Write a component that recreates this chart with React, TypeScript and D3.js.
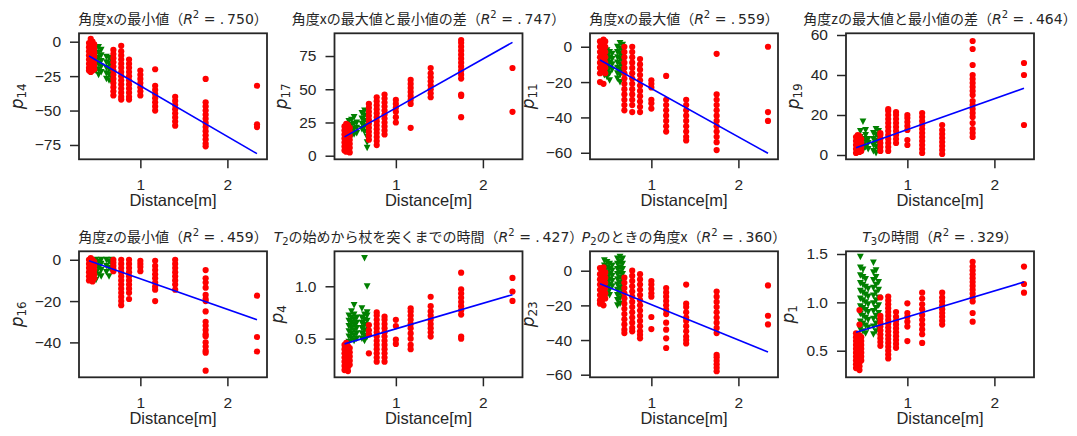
import React, { useEffect, useRef } from "react";
import * as d3 from "d3";

// column positions on the x axis (Distance[m])
const redX = [0.41, 0.43, 0.45, 0.47, 0.69, 0.78, 0.87, 1.0, 1.17, 1.4, 1.75, 2.34];
const greenX = [0.46, 0.49, 0.52, 0.55, 0.61, 0.64, 0.67];
const fitX = [0.41, 2.34];
const xTicks = [1, 2];
const xDomain = [0.295, 2.455];

const titleVars = [null, null, null, null, null, ["T", "2"], ["P", "2"], ["T", "3"]];
const titleTexts = [
  "角度xの最小値",
  "角度xの最大値と最小値の差",
  "角度xの最大値",
  "角度zの最大値と最小値の差",
  "角度zの最小値",
  "の始めから杖を突くまでの時間",
  "のときの角度x",
  "の時間",
];
const r2Labels = [".750", ".747", ".559", ".464", ".459", ".427", ".360", ".329"];
const yLabels = ["14", "17", "11", "19", "16", "4", "23", "1"];
const yDomains = [
  [-85.4, 6.1], [-2.7, 92.1], [-63.7, 7.6], [-2.15, 60.85],
  [-56.9, 4.1], [0.131, 1.334], [-61.5, 11.2], [0.225, 1.528],
];
const yTicks = [
  [0, -25, -50, -75], [0, 25, 50, 75], [0, -20, -40, -60], [0, 20, 40, 60],
  [0, -20, -40], [0.5, 1.0], [0, -20, -40, -60], [0.5, 1.0, 1.5],
];
const fitY = [
  [-10.4, -81.3], [14.2, 85.3], [-7.5, -60.3], [3.6, 33.4],
  [-0.5, -29], [0.45, 0.92], [-7.5, -46.9], [0.69, 1.21],
];

// p14
const p14Red = [
  [-1, -4, -7, -10, -13, -16, -19, -21],
  [2, -2, -5, -8, -11, -14, -17, -20, -22],
  [0, -3, -6, -9, -12, -15, -18, -21],
  [-2, -5, -8, -11, -14, -17, -20],
  [-6, -9, -12, -15, -18, -21, -24, -27, -30, -33, -36, -39],
  [-3, -7, -10, -13, -16, -19, -22, -25, -28, -31, -34, -37, -40, -42],
  [-13, -16, -19, -22, -25, -28, -31, -34, -37, -40, -42],
  [-21, -24, -27, -30, -33, -36, -39],
  [-20, -32, -35, -38, -41, -44, -47, -50],
  [-40, -43, -46, -49, -52, -55, -58, -61],
  [-27, -44, -47, -50, -53, -56, -59, -62, -65, -68, -71, -74, -76],
  [-32, -60, -62],
];
const p14Green = [
  [-3, -7, -11, -15, -19],
  [-5, -9, -13, -17, -21],
  [-4, -8, -12, -16, -20, -24],
  [-6, -10, -14, -18, -22],
  [-11, -15, -19, -23, -27],
  [-12, -16, -20, -24, -28],
  [-14, -18, -22, -26, -29],
];
// p17
const p17Red = [
  [4, 7, 10, 13, 16, 19, 22],
  [3, 6, 9, 12, 15, 18, 21, 24],
  [5, 8, 11, 14, 17, 20, 23],
  [2.5, 6, 9, 12, 15, 18, 21],
  [12, 15, 18, 21, 24, 27, 30, 33, 36, 39],
  [8, 11, 14, 17, 20, 23, 26, 29, 32, 35, 38, 41, 44],
  [16, 19, 22, 25, 28, 31, 34, 37, 40, 43, 46],
  [25, 29, 33, 36, 39, 42],
  [21, 39, 42, 45, 48, 51, 54, 57],
  [44, 47, 50, 53, 56, 59, 62, 66],
  [29, 45, 46, 58, 61, 64, 67, 70, 73, 76, 79, 82, 85, 87],
  [33, 66],
];
const p17Green = [
  [14, 18, 22, 26],
  [15, 19, 23, 27],
  [16, 20, 24, 29],
  [17, 21, 25],
  [20, 24, 28, 32],
  [18, 22, 26, 30, 34],
  [6, 10, 14, 18, 22, 26, 30],
];
// p11
const p11Red = [
  [3, 0, -3, -6, -9, -12, -15, -20],
  [2, -1, -4, -7, -10, -13],
  [4, 1, -2, -5, -8, -11, -14, -21],
  [3, 0, -3, -6, -9, -12, -15],
  [0, -3, -6, -9, -12, -15, -18, -21, -24, -27, -30, -33, -36],
  [0, -3, -6, -9, -12, -15, -18, -21, -24, -27, -30, -33, -37],
  [-7, -10, -13, -16, -19, -22, -25, -28, -31, -34, -37],
  [-19, -21, -23, -30, -32, -35],
  [-16.5, -30, -33, -36, -39, -42, -45, -48],
  [-30, -33, -36, -39, -42, -45, -48, -51, -53],
  [-4, -27, -30, -33, -36, -39, -42, -45, -48, -51, -54, -58.5],
  [0, -37, -42],
];
const p11Green = [
  [-1, -4, -7, -10, -13, -16],
  [-2, -5, -8, -11, -14, -17],
  [-3, -6, -9, -12, -15, -19],
  [-4, -7, -10, -13],
  [0, -3, -6, -9, -12, -15, -18],
  [2, -1, -4, -7, -10, -13, -16, -20],
  [1, -2, -5, -8, -11, -14],
];
// p19
const p19Red = [
  [1, 3, 5, 7, 9],
  [2, 4, 6, 8, 10],
  [1.5, 3.5, 5.5, 7.5, 9.5],
  [2, 4, 6, 8],
  [2, 4, 6, 8, 10, 11],
  [2, 4, 6, 8, 10, 12, 14, 16, 18, 20, 22, 23],
  [6, 8, 10, 12, 14, 16, 18, 20, 21.5],
  [5, 7.5, 12.5, 14.5, 16.5, 18.5, 20],
  [1, 3, 5, 7, 9, 11, 13, 15, 17, 19, 21],
  [0.5, 2.5, 4.5, 6.5, 8.5, 10.5, 12.5, 15],
  [9, 11, 13, 16, 19, 21, 23, 25, 27, 30, 32, 34, 36, 38, 40, 45, 53, 57],
  [15, 40, 46],
];
const p19Green = [
  [3, 6, 9, 12],
  [2.5, 5, 8, 16.7],
  [4, 7, 10, 12.5],
  [3, 6, 8],
  [2, 5, 8, 11],
  [1, 4, 7, 10, 13],
  [3, 6, 9, 12],
];
// p16
const p16Red = [
  [0, -2, -4, -6, -8, -10],
  [0.8, -1, -3, -5, -7, -9],
  [0, -2, -4, -6, -8, -10.5],
  [-1, -3, -5, -7, -9],
  [0, -1.5, -3, -4.5, -5.5],
  [0, -2, -4, -6, -8, -10, -12, -14, -16, -18, -20, -22],
  [0, -2, -4, -6, -8, -10, -12, -14, -16, -19],
  [-0.5, -2, -3.5, -5.5],
  [-0.5, -3, -5, -7, -9, -11, -13, -14.5, -20],
  [0, -2, -4, -6, -8, -10, -12, -14.5],
  [-5, -9, -11, -13.5, -17, -19, -20, -25, -30, -32, -34, -36, -37, -40, -42, -44, -45, -53.7],
  [-17.4, -37.4, -44.4],
];
const p16Green = [
  [-2, -5],
  [0, -3, -6, -9.7],
  [-1, -4, -7],
  [0, -2, -5, -8],
  [0, -3, -6],
  [-1, -4, -8],
  [0, -2, -5],
];
// p4
const p4Red = [
  [0.2, 0.24, 0.28, 0.32, 0.36, 0.4, 0.44],
  [0.22, 0.26, 0.3, 0.34, 0.38, 0.42, 0.46],
  [0.19, 0.23, 0.27, 0.31, 0.35, 0.39, 0.43],
  [0.25, 0.29, 0.33, 0.37, 0.41],
  [0.36, 0.54, 0.58, 0.63],
  [0.28, 0.32, 0.36, 0.4, 0.44, 0.48, 0.52, 0.56, 0.6, 0.64, 0.68, 0.72, 0.75],
  [0.28, 0.32, 0.36, 0.4, 0.44, 0.48, 0.52, 0.56, 0.6, 0.64, 0.68, 0.71],
  [0.45, 0.49, 0.62, 0.68],
  [0.4, 0.44, 0.5, 0.55, 0.6, 0.64, 0.68, 0.72, 0.76, 0.79],
  [0.52, 0.56, 0.6, 0.64, 0.68, 0.72, 0.76, 0.81, 0.9],
  [0.5, 0.52, 0.73, 0.77, 0.81, 0.85, 0.89, 0.93, 0.97, 1.13],
  [0.86, 0.95, 1.08],
];
const p4Green = [
  [0.47, 0.52, 0.57, 0.62, 0.67, 0.72],
  [0.5, 0.55, 0.6, 0.65, 0.7, 0.76],
  [0.48, 0.53, 0.58, 0.63, 0.68, 0.73, 0.82],
  [0.5, 0.55, 0.6, 0.65, 0.7],
  [0.5, 0.55, 0.6, 0.65, 0.7, 0.79],
  [0.48, 0.53, 0.58, 0.63, 0.68, 0.73, 1.27],
  [0.52, 0.57, 0.62, 0.67, 0.72, 0.75, 1.0],
];
// p23
const p23Red = [
  [1.5, -2, -5, -8, -11, -14, -17, -19],
  [0, -3, -6, -9, -12, -15, -18],
  [2, -1, -4, -7, -10, -13, -16, -20],
  [-1, -4, -7, -10, -13, -16],
  [-4, -7, -10, -13, -16, -19, -22, -25, -28, -31, -34, -36],
  [0, -3, -6, -9, -12, -15, -18, -21, -24, -27, -30, -33, -35],
  [-2, -5, -8, -11, -14, -17, -20, -23, -26, -29, -32, -35, -37, -39],
  [-6, -8, -10.5, -13, -15, -26.7, -33.7],
  [-10, -12.5, -15, -17.5, -20, -22.5, -25, -30, -34, -39, -44.6],
  [-8, -19, -21, -24, -27, -29, -32, -35, -38, -40, -42],
  [-12, -15, -18, -21, -24, -27, -30, -33, -36, -48.5, -50, -52, -54, -56, -58],
  [-8.5, -26, -31],
];
const p23Green = [
  [6, 3, 0, -3, -6, -9, -12, -16],
  [5, 2, -1, -4, -7, -10, -13],
  [4, 1, -2, -5, -8, -11, -14],
  [3, 0, -3, -6, -9],
  [7, 4, 1, -2, -5, -8, -11, -14, -17, -20],
  [8, 5, 2, -1, -4, -7, -10, -13, -16, -19],
  [7, 4, 1, -2, -5, -8, -11, -14],
];
// p1
const p1Red = [
  [0.32, 0.36, 0.4, 0.44, 0.48, 0.52, 0.56, 0.6, 0.64, 0.68],
  [0.35, 0.39, 0.43, 0.47, 0.51, 0.55, 0.59, 0.63, 0.67],
  [0.3, 0.34, 0.38, 0.42, 0.46, 0.5, 0.54, 0.58, 0.62, 0.66, 0.77, 0.92],
  [0.4, 0.44, 0.48, 0.52, 0.56, 0.6, 0.64],
  [0.55, 0.59, 0.63, 0.67, 0.71, 0.75, 0.79, 0.83, 0.86, 1.05],
  [0.42, 0.46, 0.5, 0.54, 0.58, 0.62, 0.66, 0.7, 0.74, 0.78, 0.82, 0.86, 0.9, 0.94, 0.98, 1.02, 1.06],
  [0.53, 0.57, 0.61, 0.65, 0.69, 0.73, 0.77, 0.81, 0.85, 0.9],
  [0.6, 0.75, 0.8, 0.85, 0.89, 0.99],
  [0.58, 0.67, 0.72, 0.77, 0.82, 0.87, 0.93, 0.98, 1.04, 1.1],
  [0.77, 0.81, 0.85, 0.89, 0.93, 0.97, 1.01, 1.05, 1.1],
  [0.8, 0.89, 1.01, 1.05, 1.09, 1.13, 1.17, 1.21, 1.25, 1.29, 1.33, 1.37, 1.42],
  [1.1, 1.19, 1.37],
];
const p1Green = [
  [0.72, 0.8, 0.88, 0.96, 1.04, 1.12, 1.2, 1.28, 1.36, 1.47],
  [0.7, 0.78, 0.86, 0.94, 1.02, 1.1, 1.18, 1.26, 1.34],
  [0.68, 0.76, 0.84, 0.92, 1.0, 1.08, 1.16, 1.24],
  [0.74, 0.82, 0.9, 0.98, 1.06, 1.14],
  [0.67, 0.75, 0.83, 0.91, 0.99, 1.07, 1.15, 1.23, 1.31, 1.41],
  [0.7, 0.78, 0.86, 0.94, 1.02, 1.1, 1.18, 1.26, 1.33],
  [0.73, 0.81, 0.89, 0.97, 1.05, 1.13, 1.21],
];

const redData = [p14Red, p17Red, p11Red, p19Red, p16Red, p4Red, p23Red, p1Red];
const greenData = [p14Green, p17Green, p11Green, p19Green, p16Green, p4Green, p23Green, p1Green];

const W = 1077;
const H = 436;
const colLeft = [79, 334.5, 590, 846];
const rowTop = [33.3, 251.3];
const plotW = 188;
const plotH = 126;
const ink = "#262626";
const tickFont = "'Liberation Sans', Arial, sans-serif";
const mathFont = "'DejaVu Sans', sans-serif";
const cjkFont = "'Noto Sans CJK JP', sans-serif";

const App = () => {
  const visualRef = useRef<SVGSVGElement>(null);

  useEffect(() => {
    const svg = d3.select(visualRef.current);
    svg.selectAll("*").remove();
    svg.append("rect").attr("width", W).attr("height", H).attr("fill", "white");

    redData.forEach((red, i) => {
      const col = i % 4;
      const row = Math.floor(i / 4);
      const g = svg
        .append("g")
        .attr("transform", `translate(${colLeft[col]},${rowTop[row]})`);

      const scaleX = d3.scaleLinear().domain(xDomain).range([0, plotW]);
      const scaleY = d3.scaleLinear().domain(yDomains[i]).range([plotH, 0]);

      const clipId = `clip-${i}`;
      g.append("clipPath")
        .attr("id", clipId)
        .append("rect")
        .attr("width", plotW)
        .attr("height", plotH);
      const plot = g.append("g").attr("clip-path", `url(#${clipId})`);

      const greenPts = greenData[i].flatMap((ys, c) =>
        ys.map((v) => ({ x: greenX[c], y: v }))
      );
      const redPts = red.flatMap((ys, c) => ys.map((v) => ({ x: redX[c], y: v })));

      plot
        .selectAll(".tri")
        .data(greenPts)
        .join("path")
        .attr("class", "tri")
        .attr("d", "M-3.4,-3.1 L3.4,-3.1 L0,3.4 Z")
        .attr("transform", (d) => `translate(${scaleX(d.x)},${scaleY(d.y)})`)
        .attr("fill", "green");

      plot
        .selectAll(".dot")
        .data(redPts)
        .join("circle")
        .attr("class", "dot")
        .attr("cx", (d) => scaleX(d.x))
        .attr("cy", (d) => scaleY(d.y))
        .attr("r", 3.1)
        .attr("fill", "red");

      const fitLine = d3
        .line<number>()
        .x((d) => scaleX(d))
        .y((d, k) => scaleY(fitY[i][k]));
      plot
        .append("path")
        .attr("d", fitLine(fitX))
        .attr("fill", "none")
        .attr("stroke", "blue")
        .attr("stroke-width", 1.6);

      // axes
      const fmt = i === 5 || i === 7 ? d3.format(".1f") : d3.format("d");
      const gx = g
        .append("g")
        .attr("transform", `translate(0,${plotH})`)
        .call(d3.axisBottom(scaleX).tickValues(xTicks).tickSize(9).tickPadding(11).tickFormat(d3.format("d")));
      const gy = g
        .append("g")
        .call(d3.axisLeft(scaleY).tickValues(yTicks[i]).tickSize(9).tickPadding(9).tickFormat(fmt));
      [gx, gy].forEach((a) => {
        a.select(".domain").remove();
        a.attr("font-family", tickFont).attr("font-size", 15.5);
        a.selectAll("line").attr("stroke", ink).attr("stroke-width", 1.5);
        a.selectAll("text").attr("fill", ink);
      });

      g.append("rect")
        .attr("width", plotW)
        .attr("height", plotH)
        .attr("fill", "none")
        .attr("stroke", ink)
        .attr("stroke-width", 1.8);

      // x label
      g.append("text")
        .attr("x", plotW / 2)
        .attr("y", plotH + 47)
        .attr("text-anchor", "middle")
        .attr("font-family", tickFont)
        .attr("font-size", 16.5)
        .attr("fill", ink)
        .text("Distance[m]");

      // y label
      const box = (gy.node() as SVGGElement).getBBox();
      const yl = g
        .append("text")
        .attr("transform", `translate(${box.x - 12},${plotH / 2}) rotate(-90)`)
        .attr("text-anchor", "middle")
        .attr("font-family", mathFont)
        .attr("fill", ink);
      yl.append("tspan").attr("font-size", 17).attr("font-style", "italic").text("p");
      yl.append("tspan").attr("font-size", 12).attr("dy", 3).text(yLabels[i]);

      // title
      const t = g
        .append("text")
        .attr("x", plotW / 2)
        .attr("y", -9)
        .attr("text-anchor", "middle")
        .attr("font-family", cjkFont)
        .attr("font-size", 14)
        .attr("fill", ink)
        .style("white-space", "pre");
      const v = titleVars[i];
      if (v) {
        t.append("tspan").attr("font-family", mathFont).attr("font-style", "italic").text(v[0]);
        t.append("tspan").attr("font-family", mathFont).attr("font-size", 10).attr("dy", 3).text(v[1]);
        t.append("tspan").attr("dy", -3).text(titleTexts[i] + "（");
      } else {
        t.append("tspan").text(titleTexts[i] + "（");
      }
      t.append("tspan").attr("font-family", mathFont).attr("font-style", "italic").text("R");
      t.append("tspan").attr("font-family", mathFont).attr("font-size", 10).attr("dy", -6).text("2");
      t.append("tspan")
        .attr("font-family", mathFont)
        .attr("dy", 6)
        .text(` = .\u2009${r2Labels[i].slice(1)}`);
      t.append("tspan").text("）");
    });
  }, []);

  return (
    <svg
      ref={visualRef}
      width={W}
      height={H}
      style={{ position: "absolute", left: 0, top: 0, display: "block" }}
    />
  );
};

export default App;
